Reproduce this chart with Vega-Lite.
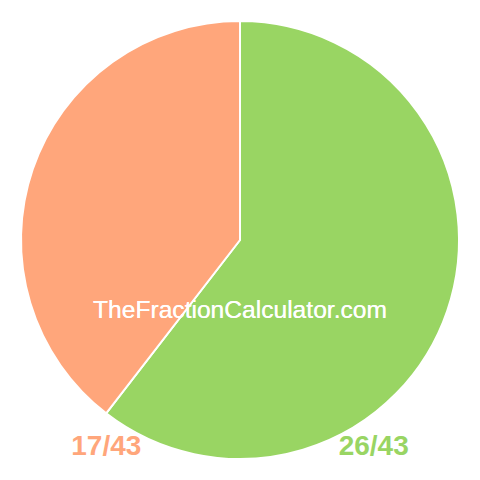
{
  "$schema": "https://vega.github.io/schema/vega-lite/v6.json",
  "description": "Pie chart of the fraction 26/43 against 17/43",
  "width": 480,
  "height": 480,
  "autosize": {"type": "fit", "contains": "padding"},
  "data": {
    "values": [
      {"fraction": "26/43", "value": 26},
      {"fraction": "17/43", "value": 17}
    ]
  },
  "encoding": {
    "color": {
      "field": "fraction",
      "type": "nominal",
      "scale": {"domain": ["26/43", "17/43"], "range": ["#99D563", "#FFA67B"]},
      "legend": null
    }
  },
  "layer": [
    {
      "mark": {"type": "arc", "outerRadius": 219, "stroke": "white", "strokeWidth": 2},
      "encoding": {
        "theta": {"field": "value", "type": "quantitative", "stack": true},
        "order": {"field": "value", "sort": "descending"}
      }
    },
    {
      "mark": {
        "type": "text",
        "font": "Liberation Sans",
        "fontSize": 24.6,
        "fill": "white",
        "text": "TheFractionCalculator.com",
        "dy": 71
      },
      "encoding": {"color": {"value": "white"}}
    },
    {
      "mark": {
        "type": "text",
        "font": "Liberation Sans",
        "fontSize": 28,
        "fontWeight": "bold",
        "baseline": "alphabetic",
        "y": {"expr": "height"},
        "dy": -20
      },
      "encoding": {
        "x": {
          "field": "fraction",
          "type": "nominal",
          "sort": ["17/43", "26/43"],
          "scale": {"type": "point", "padding": 0.379},
          "axis": null
        },
        "text": {"field": "fraction"}
      }
    }
  ],
  "config": {"view": {"stroke": null}}
}
